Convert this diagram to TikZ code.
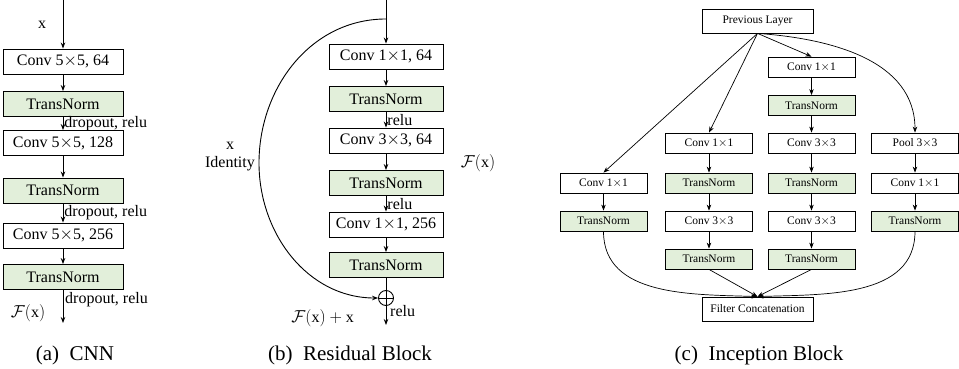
\documentclass[tikz,border=0pt]{standalone}
\usepackage{amsmath}
\usepackage{amssymb}
\usepackage{fontspec}
\setmainfont{Liberation Serif}
\usepackage{tikz}
\usetikzlibrary{calc,arrows.meta}
\definecolor{normgreen}{RGB}{226,239,218}
\tikzset{x=1pt, y=-1pt,
    layer/.style={draw=black, line width=0.9pt, minimum height=25pt,
         inner sep=0pt, font=\rmfamily\fontsize{16}{18}\selectfont},
    norm layer/.style={layer, fill=normgreen},
    small layer/.style={layer, line width=0.8pt, minimum width=87pt,
         minimum height=20pt, font=\rmfamily\fontsize{11.5}{13}\selectfont},
    small norm/.style={small layer, fill=normgreen},
    flow/.style={draw=black, line width=0.9pt, -{Stealth[length=6pt,width=4.5pt]}},
    thin flow/.style={flow, line width=0.7pt},
    note/.style={font=\rmfamily\fontsize{16}{18}\selectfont, inner sep=2pt},
    caption/.style={font=\rmfamily\fontsize{21}{24}\selectfont}
}
\def\NetCaption#1#2#3{%
 \node (#1) [caption] at #2 {#3};
}

\begin{document}
\begin{tikzpicture}
\useasboundingbox (0,0) rectangle (959,369);

% (a) CNN
\begin{scope}[layer/.append style={minimum width=120pt}]
  \coordinate (cnnIn) at (63,0);
  \node (cnn1) [layer] at (63,61.5) {Conv 5$\times$5, 64};
  \node (cnn2) [norm layer] at (63,104) {TransNorm};
  \node (cnn3) [layer] at (63,143) {Conv 5$\times$5, 128};
  \node (cnn4) [norm layer] at (63,190.5) {TransNorm};
  \node (cnn5) [layer] at (63,235.5) {Conv 5$\times$5, 256};
  \node (cnn6) [norm layer] at (63,277) {TransNorm};
  \coordinate (cnnOut) at (63,323);
  \node (cnnX) [note] at (42,25) {x};
  \draw[flow] (cnnIn) -- (cnn1);
  \draw[flow] (cnn1) -- (cnn2);
  \draw[flow] (cnn2) -- node (drop1) [note, right, inner sep=1pt] {dropout, relu} (cnn3);
  \draw[flow] (cnn3) -- (cnn4);
  \draw[flow] (cnn4) -- node (drop2) [note, right, inner sep=1pt] {dropout, relu} (cnn5);
  \draw[flow] (cnn5) -- (cnn6);
  \draw[flow] (cnn6) -- (cnnOut);
  \node (drop3) [note, right] at (63,300) {dropout, relu};
  \node (cnnF) [note] at (28,313) {$\mathcal{F}(\mathrm{x})$};
\end{scope}

% (b) Residual Block
\begin{scope}[layer/.append style={minimum width=114pt}]
  \coordinate (resIn) at (386,0);
  \coordinate (resSplit) at (386,19);
  \node (res1) [layer] at (386,56.5) {Conv 1$\times$1, 64};
  \node (res2) [norm layer] at (386,99) {TransNorm};
  \node (res3) [layer] at (386,140.5) {Conv 3$\times$3, 64};
  \node (res4) [norm layer] at (386,183) {TransNorm};
  \node (res5) [layer] at (386,224.5) {Conv 1$\times$1, 256};
  \node (res6) [norm layer] at (386,265) {TransNorm};
  \node (resSum) [circle, draw=black, line width=0.9pt, minimum size=15pt, inner sep=0pt] at (386,298) {};
  \draw[line width=0.9pt] (resSum.north) -- (resSum.south) (resSum.west) -- (resSum.east);
  \coordinate (resOut) at (386,325);
  \coordinate (resLeft) at (259,163);
  \draw[flow] (resIn) -- (res1);
  \draw[flow] (res1) -- (res2);
  \draw[flow] (res2) -- node (relu1) [note, right, inner sep=1pt] {relu} (res3);
  \draw[flow] (res3) -- (res4);
  \draw[flow] (res4) -- node (relu2) [note, right, inner sep=1pt] {relu} (res5);
  \draw[flow] (res5) -- (res6);
  \draw[line width=0.9pt] (res6) -- (resSum);
  \draw[flow] (resSum) -- (resOut);
  \draw[flow] (resSplit) to[out=180, in=90] (resLeft) to[out=-90, in=180] (resSum.west);
  \node (relu3) [note, right] at (388,311) {relu};
  \node (resX) [note] at (230,146) {x};
  \node (resId) [note] at (230,164) {Identity};
  \node (resF) [note] at (478,163) {$\mathcal{F}(\mathrm{x})$};
  \node (resFx) [note, anchor=east] at (356,318) {$\mathcal{F}(\mathrm{x}) + \mathrm{x}$};
\end{scope}

% (c) Inception Block
\node (prev) [small layer, minimum width=111pt, minimum height=24pt] at (757.5,21) {Previous Layer};
\node (concat) [small layer, minimum width=111pt, minimum height=24pt] at (757.5,309) {Filter Concatenation};
% column 1
\node (a1) [small layer] at (603.5,183) {Conv 1$\times$1};
\node (a2) [small norm] at (603.5,221) {TransNorm};
% column 2
\node (b1) [small layer] at (709,143) {Conv 1$\times$1};
\node (b2) [small norm] at (709,183) {TransNorm};
\node (b3) [small layer] at (709,221) {Conv 3$\times$3};
\node (b4) [small norm] at (709,259) {TransNorm};
% column 3
\node (c1) [small layer] at (811.5,67) {Conv 1$\times$1};
\node (c2) [small norm] at (811.5,105.5) {TransNorm};
\node (c3) [small layer] at (811.5,143) {Conv 3$\times$3};
\node (c4) [small norm] at (811.5,183) {TransNorm};
\node (c5) [small layer] at (811.5,221) {Conv 3$\times$3};
\node (c6) [small norm] at (811.5,259) {TransNorm};
% column 4
\node (d1) [small layer] at (915,143) {Pool 3$\times$3};
\node (d2) [small layer] at (915,183) {Conv 1$\times$1};
\node (d3) [small norm] at (915,221) {TransNorm};

\draw[thin flow] (prev.south) -- (a1.north);
\draw[thin flow] (prev.south) -- (b1.north);
\draw[thin flow] (prev.south) -- (c1.north);
\draw[thin flow] (prev.south) to[out=-4, in=90] (d1.north);
\draw[thin flow] (a1) -- (a2);
\draw[thin flow] (b1) -- (b2);
\draw[thin flow] (b2) -- (b3);
\draw[thin flow] (b3) -- (b4);
\draw[thin flow] (c1) -- (c2);
\draw[thin flow] (c2) -- (c3);
\draw[thin flow] (c3) -- (c4);
\draw[thin flow] (c4) -- (c5);
\draw[thin flow] (c5) -- (c6);
\draw[thin flow] (d1) -- (d2);
\draw[thin flow] (d2) -- (d3);
\draw[thin flow] (a2.south) to[out=-90, in=178] (concat.north);
\draw[thin flow] (b4.south) -- (concat.north);
\draw[thin flow] (c6.south) -- (concat.north);
\draw[thin flow] (d3.south) to[out=-90, in=2] (concat.north);

\NetCaption{capA}{(75,355)}{(a)\enspace CNN}
\NetCaption{capB}{(350,355)}{(b)\enspace Residual Block}
\NetCaption{capC}{(759,355)}{(c)\enspace Inception Block}
\end{tikzpicture}
\end{document}
